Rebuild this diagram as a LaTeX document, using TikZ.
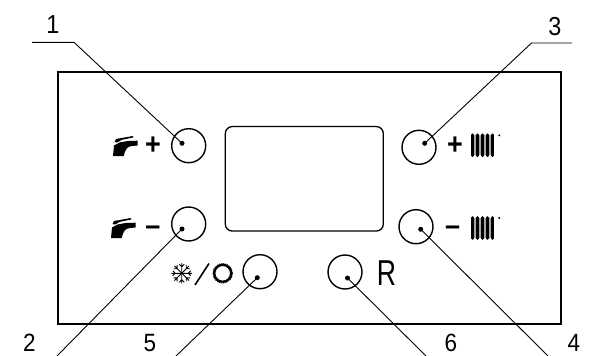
\documentclass[tikz,border=0pt]{standalone}
\usepackage{fontspec}
\setmainfont[FakeStretch=0.9]{Liberation Sans}
\newfontfamily\narrowR[FakeStretch=0.74]{Liberation Sans}
\tikzset{
 lbl/.style={font=\fontsize{26}{26}\selectfont,inner sep=0pt},
 lblb/.style={font=\fontsize{25}{25}\selectfont,inner sep=0pt},
 btn/.style={circle,draw=black,line width=1.4pt,minimum size=34pt,inner sep=0pt},
 pin/.style={circle,fill=black,minimum size=5pt,inner sep=0pt},
 lead/.style={line width=0.9pt},
 panel/.style={draw=black,line width=1.4pt},
 sym/.style={font=\fontsize{30}{30}\selectfont\bfseries,inner sep=0pt},
 tap/.pic={
  \fill[black] (0,20) -- (1,9.5) -- (7,6.3) -- (15,5) -- (24.5,4.7) -- (24.5,9.5) -- (19,10) .. controls (14,10.5) and (12.5,13) .. (10.7,20) -- cycle;
  \fill[black] (1.5,6) -- (3,3) -- (20,0) -- (20,1.5) -- (9,3.8) -- (4,6.5) -- cycle;
 },
 rad/.pic={
  \fill[black!35] (1,-10) rectangle (24,10);
  \foreach \x in {0,5.15,10.3,15.45,20.6}{\draw[line width=3pt,line cap=round,black] (\x+1.7,-10.4) -- (\x+1.7,10.4);}
  \fill (29,-10) circle (1.1pt);
 },
}
\begin{document}
\begin{tikzpicture}[x=1pt,y=-1pt]
\useasboundingbox (0,0) rectangle (589,356);
\node[panel,minimum width=503pt,minimum height=252pt,inner sep=0pt] (box) at (309.5,198) {};
\node[draw=black,line width=1.3pt,rounded corners=7pt,minimum width=158pt,minimum height=104.5pt,inner sep=0pt] (disp) at (304.3,178.8) {};
\node[btn] (b1) at (188.7,145.7) {};
\node[btn] (b2) at (188.7,224) {};
\node[btn] (b3) at (419,147.3) {};
\node[btn] (b4) at (416,226.7) {};
\node[btn] (b5) at (260,271.7) {};
\node[btn] (b6) at (345,272) {};
\node[pin] (d1) at (182,143.3) {};
\node[pin] (d2) at (182,229) {};
\node[pin] (d3) at (424.7,143.3) {};
\node[pin] (d4) at (420.7,229.3) {};
\node[pin] (d5) at (257.3,277.7) {};
\node[pin] (d6) at (347.5,278) {};
\coordinate (c1a) at (32,42.3); \coordinate (c1b) at (74,42.3);
\coordinate (c3a) at (572,43); \coordinate (c3b) at (531.5,43);
\coordinate (e2) at (57,356); \coordinate (e5) at (176,356);
\coordinate (e6) at (426,356); \coordinate (e4) at (548,356);
\draw[lead] (c1a) -- (c1b) -- (d1.center);
\draw[lead] (c3a) -- (c3b) -- (d3.center);
\draw[lead] (d2.center) -- (e2);
\draw[lead] (d5.center) -- (e5);
\draw[lead] (d6.center) -- (e6);
\draw[lead] (d4.center) -- (e4);
\node[lbl] (n1) at (53,25) {1};
\node[lbl] (n3) at (555,27) {3};
\node[lblb] (n2) at (29.5,343) {2};
\node[lblb] (n5) at (150,343) {5};
\node[lblb] (n6) at (451,343) {6};
\node[lblb] (n4) at (574,343) {4};
\node[font=\narrowR\fontsize{36}{36}\selectfont,inner sep=0pt] (r) at (386.5,273) {R};
\pic at (113,136) {tap};
\pic at (111,218) {tap};
\node[sym] (p1) at (153,145.7) {+};
\node[sym] (m1) at (153,230.5) {–};
\node[sym] (p2) at (455,145.5) {+};
\node[sym] (m2) at (452.7,230.5) {–};
\pic at (470.3,145.3) {rad};
\pic at (470.3,228) {rad};
\begin{scope}[shift={(181.7,273.3)}]
\foreach \a in {0,45,...,315}{\draw[line width=.9pt,rotate=\a] (0,0) -- (0,-10.3) (0,-6.5) -- (-2.5,-9) (0,-6.5) -- (2.5,-9);}
\end{scope}
\draw[line width=1.6pt] (209,263.5) -- (195,285);
\draw[line width=2.4pt] (222.7,273.3) circle (8.5pt);
\draw[line width=.8pt,dash pattern=on 1pt off 1pt] (222.7,273.3) circle (9.8pt);
\end{tikzpicture}
\end{document}
